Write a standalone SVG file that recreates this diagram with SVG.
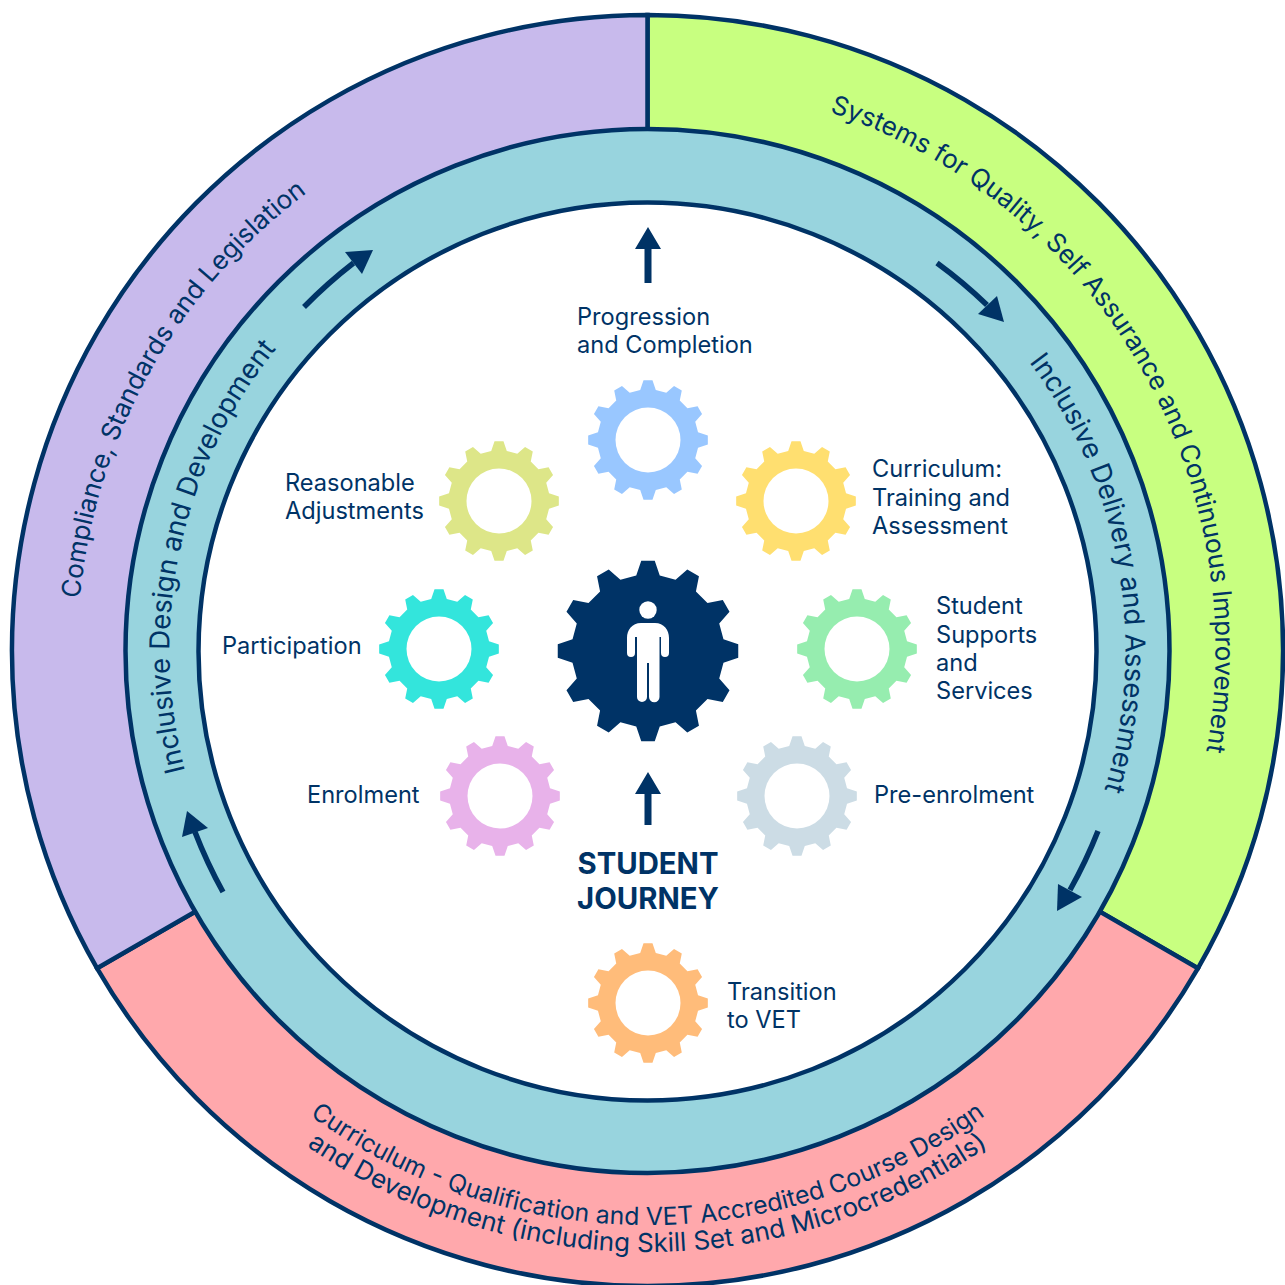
<svg xmlns="http://www.w3.org/2000/svg" xmlns:xlink="http://www.w3.org/1999/xlink" width="1285" height="1285" viewBox="0 0 1285 1285">
<style>
text{font-family:Inter,"Noto Sans",sans-serif;fill:#003366;font-size:23.6px}
.cv{font-size:26px}
.cw{font-size:27.5px}
.t{font-weight:700;font-size:29.3px;text-anchor:middle}
.ring{stroke:#003366;stroke-width:4.5}
.ln{fill:none;stroke:#003366;stroke-width:5.5}
.hd{fill:#003366}
.hole{fill:#fff}
</style>
<defs>
<path id="gear" d="M-7.45,-99.72 L7.45,-99.72 L12.99,-83.39 L30.45,-78.71 L43.41,-90.08 L56.31,-82.64 L52.94,-65.73 L65.73,-52.94 L82.64,-56.31 L90.08,-43.41 L78.71,-30.45 L83.39,-12.99 L99.72,-7.45 L99.72,7.45 L83.39,12.99 L78.71,30.45 L90.08,43.41 L82.64,56.31 L65.73,52.94 L52.94,65.73 L56.31,82.64 L43.41,90.08 L30.45,78.71 L12.99,83.39 L7.45,99.72 L-7.45,99.72 L-12.99,83.39 L-30.45,78.71 L-43.41,90.08 L-56.31,82.64 L-52.94,65.73 L-65.73,52.94 L-82.64,56.31 L-90.08,43.41 L-78.71,30.45 L-83.39,12.99 L-99.72,7.45 L-99.72,-7.45 L-83.39,-12.99 L-78.71,-30.45 L-90.08,-43.41 L-82.64,-56.31 L-65.73,-52.94 L-52.94,-65.73 L-56.31,-82.64 L-43.41,-90.08 L-30.45,-78.71 L-12.99,-83.39 Z"/>
<path id="pSys" d="M647.5,82 A568,568 0 0 1 1144.3,925.3"/>
<path id="pCom" d="M154,935 A570,570 0 0 1 632.6,80.2"/>
<path id="pDes" d="M408.5,1064 A478,478 0 0 1 600.9,174.3"/>
<path id="pDel" d="M730.5,179.3 A478,478 0 0 1 886.5,1064"/>
<path id="pC1" d="M149.5,937.5 A575,575 0 0 0 1145.5,937.5"/>
<path id="pC2" d="M126.2,951 A602,602 0 0 0 1168.8,951"/>
</defs>
<g id="ring-systems"><path class="ring" fill="#C8FF80" d="M647.5,650.5 V15 A635.5,635.5 0 0 1 1197.9,968.3 Z"/></g>
<g id="ring-curriculum"><path class="ring" fill="#FFA8AC" d="M647.5,650.5 L1197.9,968.3 A635.5,635.5 0 0 1 97.1,968.3 Z"/></g>
<g id="ring-compliance"><path class="ring" fill="#C8BAEC" d="M647.5,650.5 L97.1,968.3 A635.5,635.5 0 0 1 647.5,15 Z"/></g>
<g id="ring-inclusive"><circle class="ring" cx="647.5" cy="651" r="522" fill="#98D4DE"/></g>
<g id="ring-journey"><circle class="ring" cx="647.5" cy="651.5" r="449" fill="#fff"/></g>
<g id="ring-labels">
<text class="cv"><textPath href="#pSys" startOffset="50%" text-anchor="middle">Systems for Quality, Self Assurance and Continuous Improvement</textPath></text>
<text class="cv"><textPath href="#pCom" startOffset="50%" text-anchor="middle">Compliance, Standards and Legislation</textPath></text>
<text class="cw"><textPath href="#pDes" startOffset="50%" text-anchor="middle">Inclusive Design and Development</textPath></text>
<text class="cw"><textPath href="#pDel" startOffset="50%" text-anchor="middle">Inclusive Delivery and Assessment</textPath></text>
<text class="cv" style="font-size:24.8px"><textPath href="#pC1" startOffset="50%" text-anchor="middle">Curriculum - Qualification and VET Accredited Course Design</textPath></text>
<text class="cv"><textPath href="#pC2" startOffset="50%" text-anchor="middle">and Development (including Skill Set and Microcredentials)</textPath></text>
</g>
<g id="connectors">
<path class="ln" d="M937,263 A484,484 0 0 1 987,305"/><polygon class="hd" points="1004,322 997,296 978,314"/>
<path class="ln" d="M1098,831 A484,484 0 0 1 1070,890"/><polygon class="hd" points="1057,911 1058,884 1082,897"/>
<path class="ln" d="M223,892 A484,484 0 0 1 195,832"/><polygon class="hd" points="187,811 182,837 208,828"/>
<path class="ln" d="M304,307 A484,484 0 0 1 353.5,263"/><polygon class="hd" points="373,250 345,252 362,274"/>
<path class="hd" d="M648,227 L661,249 H651.5 V283 H644.5 V249 H635 Z"/>
<path class="hd" d="M648,772 L661,794 H651.5 V825 H644.5 V794 H635 Z"/>
</g>
<g id="center"><use href="#gear" transform="translate(648,651) scale(.905)" fill="#003366"/>
<circle cx="648" cy="610" r="8.7" fill="#fff"/>
<path fill="#fff" d="M641,623 H655 C664,623 669,630 669,638 V653 A4,4 0 0 1 661,653 V637 H659.5 V697 A5,5 0 0 1 649,697 V663 H647 V697 A5,5 0 0 1 637,697 V637 H635 V653 A4,4 0 0 1 627,653 V638 C627,630 632,623 641,623 Z"/></g>
<g id="title"><text class="t" x="648" y="874">STUDENT</text><text class="t" x="648" y="909">JOURNEY</text></g>
<g id="n-progression"><use href="#gear" transform="translate(648,440) scale(.6)" fill="#99C7FF"/><circle class="hole" cx="648" cy="440" r="32.5"/><text x="577" y="325">Progression</text><text x="577" y="353">and Completion</text></g>
<g id="n-curriculum"><use href="#gear" transform="translate(796,501) scale(.6)" fill="#FFDF70"/><circle class="hole" cx="796" cy="501" r="32.5"/><text x="872" y="477">Curriculum:</text><text x="872" y="506">Training and</text><text x="872" y="534">Assessment</text></g>
<g id="n-supports"><use href="#gear" transform="translate(857,649) scale(.6)" fill="#96EDAF"/><circle class="hole" cx="857" cy="649" r="32.5"/><text x="936" y="614">Student</text><text x="936" y="643">Supports</text><text x="936" y="671">and</text><text x="936" y="699">Services</text></g>
<g id="n-preenrolment"><use href="#gear" transform="translate(797,796) scale(.6)" fill="#CCDCE5"/><circle class="hole" cx="797" cy="796" r="32.5"/><text x="874" y="802.5">Pre-enrolment</text></g>
<g id="n-transition"><use href="#gear" transform="translate(648,1003) scale(.6)" fill="#FFBC7A"/><circle class="hole" cx="648" cy="1003" r="32.5"/><text x="727" y="1000">Transition</text><text x="727" y="1028">to VET</text></g>
<g id="n-enrolment"><use href="#gear" transform="translate(500,796) scale(.6)" fill="#E8B2EA"/><circle class="hole" cx="500" cy="796" r="32.5"/><text x="307" y="802.5">Enrolment</text></g>
<g id="n-participation"><use href="#gear" transform="translate(439,649) scale(.6)" fill="#33E5DC"/><circle class="hole" cx="439" cy="649" r="32.5"/><text x="222" y="654">Participation</text></g>
<g id="n-adjustments"><use href="#gear" transform="translate(499,501) scale(.6)" fill="#DDE688"/><circle class="hole" cx="499" cy="501" r="32.5"/><text x="285" y="491">Reasonable</text><text x="285" y="519">Adjustments</text></g>
</svg>
